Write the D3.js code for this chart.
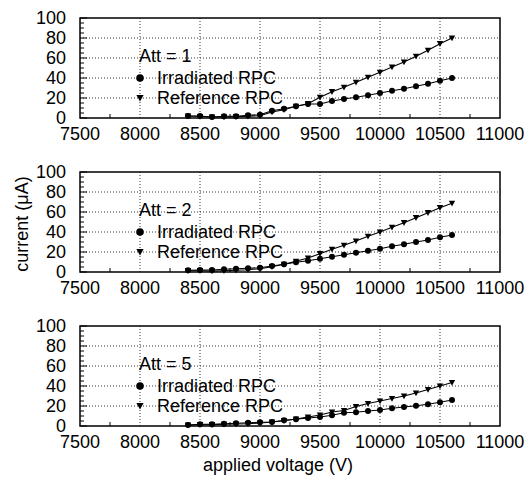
<!DOCTYPE html>
<html>
<head>
<meta charset="utf-8">
<script src="https://cdn.jsdelivr.net/npm/d3@7"></script>
<style>
  html, body { margin: 0; padding: 0; background: #fff; }
  svg { display: block; font-family: "Liberation Sans", Arial, Helvetica, sans-serif; }
</style>
</head>
<body>
<svg id="chart" width="531" height="485"></svg>
<script>
// ---- data ----
const voltages = [8400, 8500, 8600, 8700, 8800, 8900, 9000, 9100, 9200, 9300, 9400, 9500,
                  9600, 9700, 9800, 9900, 10000, 10100, 10200, 10300, 10400, 10500, 10600];

const att1Irradiated = [2, 2, 1, 1.7, 1.7, 2.7, 3.3, 7.3, 9.3, 11.7, 14, 14,
                        17, 19, 20.7, 22.7, 25, 27.3, 29.3, 31.7, 34.3, 37.3, 40];
const att1Reference  = [2, 1.5, 1, 1, 1.3, 1.7, 2.3, 6, 8.3, 11.7, 14.3, 20.7,
                        26.3, 30.7, 35.7, 40.7, 45.7, 51, 56, 61.7, 67.7, 74.3, 80];

const att2Irradiated = [1.7, 2, 2, 2.7, 3.3, 3.7, 4.3, 6, 7.7, 9.7, 11.3, 13.3,
                        15.3, 17.3, 19.3, 21.3, 23.3, 25.7, 27.7, 30, 32, 34.7, 37];
const att2Reference  = [1.3, 1.3, 1, 1.3, 1.7, 2.3, 3.3, 5.3, 7.7, 10.7, 14, 18.3,
                        22.7, 26.7, 31, 35.7, 40, 44.7, 49.3, 54.3, 59.3, 64.3, 68.7];

const att5Irradiated = [1, 1.7, 1.7, 2.3, 2.7, 3.3, 3.7, 4, 5.7, 6.7, 8, 9,
                        10.7, 13.3, 13.7, 15, 16, 17.7, 19, 20.3, 21.7, 23.7, 26];
const att5Reference  = [1, 1.3, 1.3, 1.7, 2, 2.3, 3, 4, 5.3, 7, 9, 11,
                        14, 15.5, 19.5, 22.5, 25, 27.5, 30, 33, 36.5, 40, 43.5];

const panelTitles = ["Att = 1", "Att = 2", "Att = 5"];
const irradiatedSeries = [att1Irradiated, att2Irradiated, att5Irradiated];
const referenceSeries = [att1Reference, att2Reference, att5Reference];
const seriesNames = ["Irradiated RPC", "Reference RPC"];

const xTicks = [7500, 8000, 8500, 9000, 9500, 10000, 10500, 11000];
const xMinorTicks = [7750, 8250, 8750, 9250, 9750, 10250, 10750];
const yTicks = [0, 20, 40, 60, 80, 100];
const yMinorTicks = [5, 10, 15, 25, 30, 35, 45, 50, 55, 65, 70, 75, 85, 90, 95];

const xLabel = "applied voltage (V)";
const yLabel = "current (\u03bcA)";

// ---- layout ----
const svg = d3.select("#chart");
const left = 80, right = 500;
const panelTops = [18, 172, 326];
const panelH = 100;
const fontSize = 18;

const x = d3.scaleLinear().domain([7500, 11000]).range([left, right]);

const triPath = "M-3.2,-2.6L3.2,-2.6L0,3.2Z";
const triPathLegend = "M-3.6,-3L3.6,-3L0,3.6Z";

panelTops.forEach((top, i) => {
  const y = d3.scaleLinear().domain([0, 100]).range([top + panelH, top]);
  const g = svg.append("g");

  // gridlines
  g.append("g").selectAll("line")
    .data(xTicks.filter(t => t > 7500 && t < 11000))
    .join("line")
    .attr("x1", d => x(d)).attr("x2", d => x(d))
    .attr("y1", y(0)).attr("y2", y(100))
    .attr("stroke", "#000").attr("stroke-width", 0.8)
    .attr("stroke-dasharray", "1,2");
  g.append("g").selectAll("line")
    .data(yTicks.filter(t => t > 0 && t < 100))
    .join("line")
    .attr("x1", left).attr("x2", right)
    .attr("y1", d => y(d)).attr("y2", d => y(d))
    .attr("stroke", "#000").attr("stroke-width", 0.8)
    .attr("stroke-dasharray", "1,2");

  // minor ticks
  g.append("g").selectAll("line")
    .data(xMinorTicks).join("line")
    .attr("x1", d => x(d)).attr("x2", d => x(d))
    .attr("y1", y(0)).attr("y2", y(0) - 4)
    .attr("stroke", "#000").attr("stroke-width", 1);
  g.append("g").selectAll("line")
    .data(yMinorTicks).join("line")
    .attr("x1", left).attr("x2", left + 4)
    .attr("y1", d => y(d)).attr("y2", d => y(d))
    .attr("stroke", "#000").attr("stroke-width", 1);
  g.append("g").selectAll("line")
    .data(yTicks).join("line")
    .attr("x1", left).attr("x2", left + 7)
    .attr("y1", d => y(d)).attr("y2", d => y(d))
    .attr("stroke", "#000").attr("stroke-width", 1);

  // frame
  g.append("rect")
    .attr("x", left).attr("y", y(100))
    .attr("width", right - left).attr("height", y(0) - y(100))
    .attr("fill", "none").attr("stroke", "#000").attr("stroke-width", 1.5);

  // tick labels
  g.append("g").selectAll("text")
    .data(xTicks).join("text")
    .attr("x", d => x(d)).attr("y", y(0) + 21.5)
    .attr("text-anchor", "middle")
    .attr("font-size", fontSize)
    .text(d => d);
  g.append("g").selectAll("text")
    .data(yTicks).join("text")
    .attr("x", left - 14).attr("y", d => y(d))
    .attr("dy", "0.34em")
    .attr("text-anchor", "end")
    .attr("font-size", fontSize)
    .text(d => d);

  // series
  const line = d3.line().x((d, j) => x(voltages[j])).y(d => y(d));
  const irr = irradiatedSeries[i], ref = referenceSeries[i];

  g.append("path").datum(ref).attr("d", line)
    .attr("fill", "none").attr("stroke", "#000").attr("stroke-width", 1.1);
  g.append("path").datum(irr).attr("d", line)
    .attr("fill", "none").attr("stroke", "#000").attr("stroke-width", 1.1);

  g.append("g").selectAll("path")
    .data(ref).join("path")
    .attr("d", triPath)
    .attr("transform", (d, j) => `translate(${x(voltages[j])},${y(d)})`)
    .attr("fill", "#000");
  g.append("g").selectAll("circle")
    .data(irr).join("circle")
    .attr("cx", (d, j) => x(voltages[j])).attr("cy", d => y(d))
    .attr("r", 3).attr("fill", "#000");

  // title and legend
  g.append("text")
    .attr("x", 139).attr("y", y(56))
    .attr("font-size", fontSize)
    .text(panelTitles[i]);

  g.append("circle")
    .attr("cx", x(8000)).attr("cy", y(40)).attr("r", 3.8).attr("fill", "#000");
  g.append("path")
    .attr("d", triPathLegend)
    .attr("transform", `translate(${x(8000)},${y(20)})`)
    .attr("fill", "#000");
  g.append("text")
    .attr("x", 157).attr("y", y(40)).attr("dy", "0.36em")
    .attr("font-size", fontSize)
    .text(seriesNames[0]);
  g.append("text")
    .attr("x", 157).attr("y", y(20)).attr("dy", "0.36em")
    .attr("font-size", fontSize)
    .text(seriesNames[1]);
});

// axis titles
svg.append("text")
  .attr("x", 278).attr("y", 471)
  .attr("text-anchor", "middle")
  .attr("font-size", fontSize)
  .text(xLabel);

svg.append("text")
  .attr("transform", "translate(28,224) rotate(-90)")
  .attr("text-anchor", "middle")
  .attr("font-size", fontSize)
  .text(yLabel);
</script>
</body>
</html>
